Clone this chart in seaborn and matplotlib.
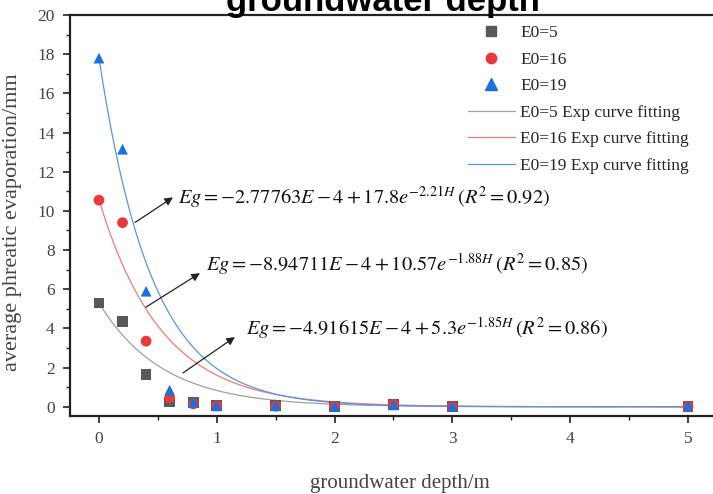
import numpy as np
import pandas as pd
import matplotlib
matplotlib.use("Agg")
import matplotlib.pyplot as plt
import seaborn as sns
from matplotlib.ticker import MultipleLocator
from matplotlib.lines import Line2D

# ---- data ----
depth = [0, 0.2, 0.4, 0.6, 0.8, 1.0, 1.5, 2.0, 2.5, 3.0, 5.0]
e0_5 = [5.3, 4.35, 1.65, 0.25, 0.2, 0.05, 0.05, 0.02, 0.1, 0.02, 0.02]
e0_16 = [10.55, 9.4, 3.35, 0.45, 0.15, 0.05, 0.03, 0.02, 0.12, 0.01, 0.0]
e0_19 = [17.8, 13.15, 5.9, 0.85, 0.25, 0.05, 0.05, 0.03, 0.1, 0.03, 0.05]
series_names = ["E0=5", "E0=16", "E0=19"]
fit_names = ["E0=5 Exp curve fitting", "E0=16 Exp curve fitting", "E0=19 Exp curve fitting"]
# fitted model Eg = a + b*exp(c*H)
fit_a = [-4.91615e-4, -8.94711e-4, -2.77763e-4]
fit_b = [5.3, 10.57, 17.8]
fit_c = [-1.85, -1.88, -2.21]
equations = [r"$Eg=-2.77763E-4+17.8e^{-2.21H}\,(R^2=0.92)$",
             r"$Eg=-8.94711E-4+10.57e^{-1.88H}\,(R^2=0.85)$",
             r"$Eg=-4.91615E-4+5.3e^{-1.85H}\,(R^2=0.86)$"]
x_ticks = [0, 1, 2, 3, 4, 5]
y_ticks = [0, 2, 4, 6, 8, 10, 12, 14, 16, 18, 20]

sns.set_style("ticks")
plt.rcParams['font.family'] = ['Liberation Serif', 'DejaVu Serif']
plt.rcParams['mathtext.fontset'] = 'stix'

pts = pd.DataFrame({
    "depth": depth * 3,
    "value": e0_5 + e0_16 + e0_19,
    "series": sum([[n] * len(depth) for n in series_names], []),
})
H = np.linspace(0, 5, 300)
fit_rows = []
for name, a, b, c in zip(fit_names, fit_a, fit_b, fit_c):
    fit_rows.append(pd.DataFrame({"depth": H, "value": a + b * np.exp(c * H), "series": name}))
fits = pd.concat(fit_rows, ignore_index=True)

fig = plt.figure(figsize=(7.13, 4.94), dpi=100)
ax = fig.add_axes([70 / 713, 1 - 416 / 494, (730 - 70) / 713, (416 - 15) / 494])

line_colors = ["#a0a0a0", "#f27a7a", "#5b95dd"]
pt_colors = ["#595959", "#e8393c", "#1c6fdc"]

sns.lineplot(data=fits, x="depth", y="value", hue="series", hue_order=fit_names,
             palette=line_colors, linewidth=0.9, ax=ax, legend=False, zorder=2)
sns.scatterplot(data=pts, x="depth", y="value", hue="series", style="series",
                hue_order=series_names, style_order=series_names,
                markers={"E0=5": "s", "E0=16": "o", "E0=19": "^"},
                palette=pt_colors, s=60, linewidth=0, ax=ax, legend=False, zorder=3)

# legend
handles = [Line2D([], [], marker=m, color=c, linestyle="none", markersize=ms)
           for m, c, ms in zip(["s", "o", "^"], pt_colors, [6.5, 7.5, 8])]
handles += [Line2D([], [], color=c, linewidth=0.9) for c in line_colors]
fig.legend(handles, series_names + fit_names, loc="upper left",
           bbox_to_anchor=(468 / 713, 1 - 25 / 494), frameon=False,
           prop={"family": "Liberation Serif", "size": 12.5},
           labelspacing=0.6, handlelength=2.7, handletextpad=0.3,
           borderaxespad=0, borderpad=0)

# annotations
arrow_starts = [(0.306, 9.41), (0.399, 5.09), (0.713, 1.73)]
arrow_ends = [(0.628, 10.69), (0.857, 6.82), (1.154, 3.56)]
text_pos = [(0.672, 10.69), (0.905, 7.3), (1.245, 4.0)]
for eq, s, e, tp in zip(equations, arrow_starts, arrow_ends, text_pos):
    ax.annotate("", xy=e, xytext=s,
                arrowprops=dict(arrowstyle="-|>", color="#222222", lw=0.9,
                                mutation_scale=12, shrinkA=0, shrinkB=0))
    ax.text(tp[0], tp[1], eq, fontsize=14.7, va="center", ha="left", color="#111111")

ax.set_xlim(-0.246, 5.357)
ax.set_ylim(-0.47, 20)
ax.set_xticks(x_ticks)
ax.set_yticks(y_ticks)
ax.set_xticklabels([str(t) for t in x_ticks])
ax.set_yticklabels([str(t) for t in y_ticks])
ax.xaxis.set_minor_locator(MultipleLocator(0.5))
ax.yaxis.set_minor_locator(MultipleLocator(1))
ax.tick_params(which="major", direction="out", length=5, width=1.2, labelsize=12.5,
               colors="#222222", labelcolor="#444444", pad=6)
ax.tick_params(which="minor", direction="out", length=3, width=1.0, colors="#222222")
for sp in ax.spines.values():
    sp.set_linewidth(1.6)
    sp.set_color("#222222")

ax.set_xlabel("groundwater depth/m", fontsize=15, color="#444444", labelpad=19)
ax.set_ylabel("average phreatic evaporation/mm", fontsize=16, color="#444444", labelpad=4)
ax.yaxis.set_label_coords(-0.073, 1 - (222 - 15) / (416 - 15))

fig.text(383 / 713, 1 - 11 / 494, "groundwater depth", fontsize=25, fontweight="bold",
         family="Liberation Sans", ha="center", va="baseline", color="#000000")

fig.savefig("out.png", dpi=100)
